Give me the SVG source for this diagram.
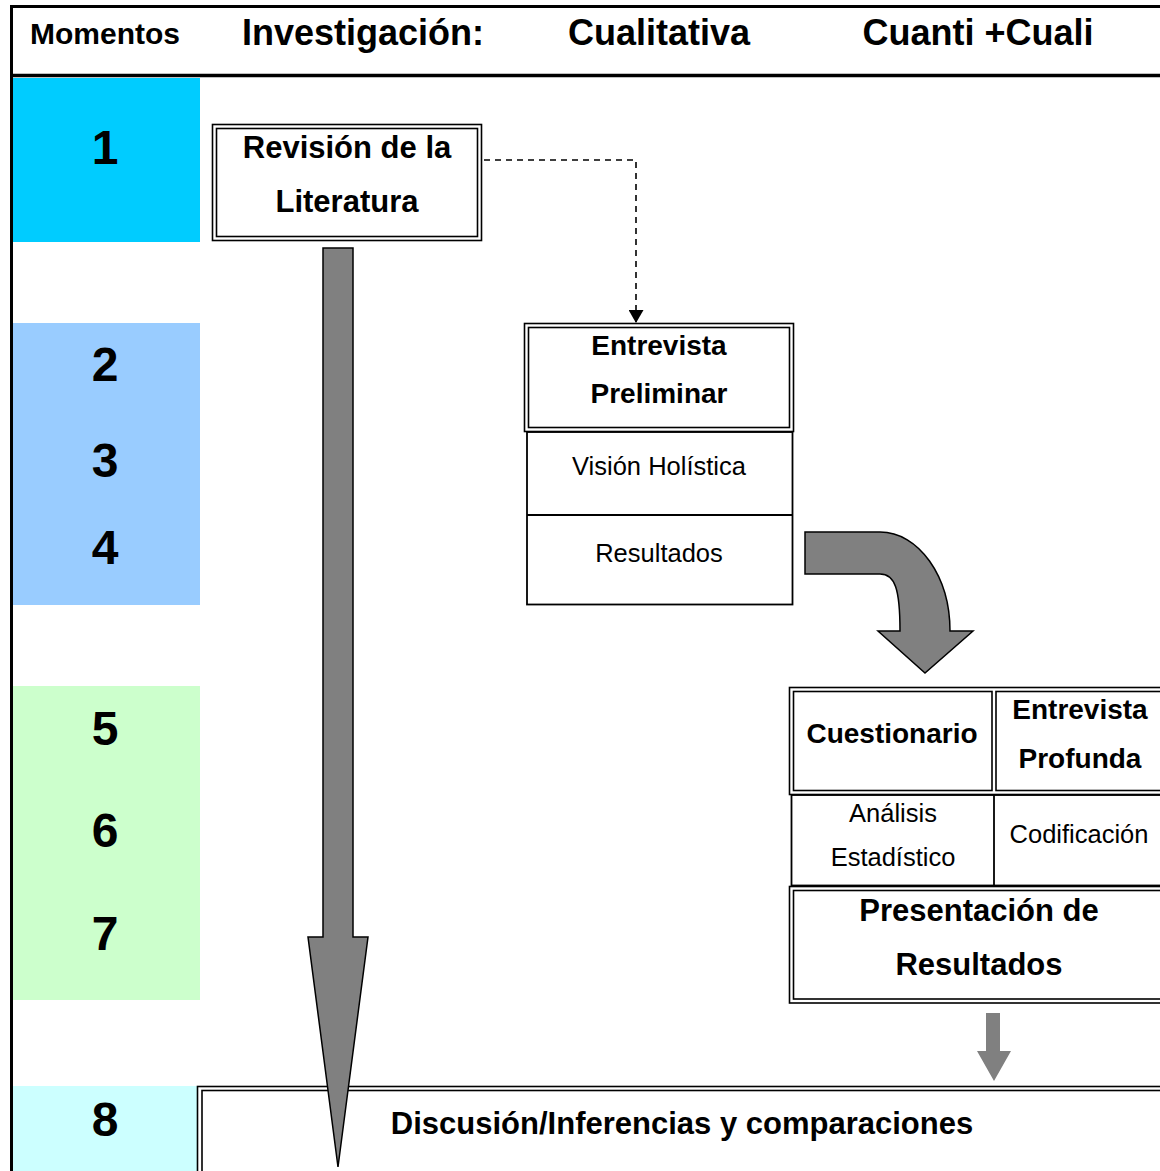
<svg xmlns="http://www.w3.org/2000/svg" width="1160" height="1171" viewBox="0 0 1160 1171">
<defs>
<marker id="tri" markerWidth="13" markerHeight="15" refX="13" refY="7.5" orient="auto" markerUnits="userSpaceOnUse" viewBox="0 0 13 15">
<path d="M0,0 L13,7.5 L0,15 Z" fill="#000"/>
</marker>
</defs>
<style>
text{font-family:"Liberation Sans",Arial,sans-serif;fill:#000;text-anchor:middle}
.hd{font-size:36px;font-weight:bold}
.num{font-size:48px;font-weight:bold}
.b28{font-size:28px;font-weight:bold}
.b31{font-size:31px;font-weight:bold}
.r{font-size:25.5px}
.ln{fill:none;stroke:#000;stroke-width:1.6}
.cell{fill:#fff;stroke:#000;stroke-width:1.8}
.arrow{fill:#808080;stroke:#000;stroke-width:1.5;stroke-linejoin:miter}
</style>
<rect width="1160" height="1171" fill="#fff"/>
<g id="frame">
<line x1="11.5" y1="5" x2="11.5" y2="1171" stroke="#000" stroke-width="3"/>
<line x1="10" y1="6.5" x2="1160" y2="6.5" stroke="#000" stroke-width="3"/>
<line x1="10" y1="75.5" x2="1160" y2="75.5" stroke="#000" stroke-width="3.5"/>
</g>
<g id="header">
<text class="hd" x="105" y="44" style="font-size:30px">Momentos</text>
<text class="hd" x="363" y="45">Investigación:</text>
<text class="hd" x="659" y="45">Cualitativa</text>
<text class="hd" x="978" y="45">Cuanti +Cuali</text>
</g>
<g id="moments">
<rect x="13" y="78" width="187" height="164" fill="#00CCFF"/>
<rect x="13" y="323" width="187" height="282" fill="#99CCFF"/>
<rect x="13" y="686" width="187" height="314" fill="#CCFFCC"/>
<rect x="13" y="1086" width="184" height="85" fill="#CCFFFF"/>
<text class="num" x="105" y="164">1</text>
<text class="num" x="105" y="381">2</text>
<text class="num" x="105" y="477">3</text>
<text class="num" x="105" y="564">4</text>
<text class="num" x="105" y="745">5</text>
<text class="num" x="105" y="847">6</text>
<text class="num" x="105" y="950">7</text>
<text class="num" x="105" y="1136">8</text>
</g>
<g id="revision">
<rect x="212.5" y="124.5" width="269" height="116" class="ln"/>
<rect x="216.5" y="128.5" width="261" height="108" class="ln"/>
<text class="b31" x="347" y="158">Revisión de la</text>
<text class="b31" x="347" y="212">Literatura</text>
</g>
<g id="entrevista-preliminar">
<rect x="527" y="432" width="265.5" height="172.5" class="cell"/>
<line x1="527" y1="515" x2="792.5" y2="515" stroke="#000" stroke-width="1.8"/>
<rect x="524.5" y="323.5" width="269" height="108" class="ln" fill="#fff"/>
<rect x="528.5" y="327.5" width="261" height="100" class="ln"/>
<text class="b28" x="659" y="355">Entrevista</text>
<text class="b28" x="659" y="403">Preliminar</text>
<text class="r" x="659" y="475">Visión Holística</text>
<text class="r" x="659" y="562">Resultados</text>
</g>
<g id="cuanti-cuali">
<rect x="791.5" y="795" width="380" height="90.5" class="cell"/>
<line x1="994" y1="795" x2="994" y2="886" stroke="#000" stroke-width="1.8"/>
<rect x="789.5" y="687.5" width="380" height="107" class="ln"/>
<rect x="793.5" y="691.5" width="198.5" height="99" class="ln"/>
<rect x="996" y="691.5" width="180" height="99" class="ln"/>
<text class="b28" x="892" y="743">Cuestionario</text>
<text class="b28" x="1080" y="719">Entrevista</text>
<text class="b28" x="1080" y="768">Profunda</text>
<text class="r" x="893" y="822">Análisis</text>
<text class="r" x="893" y="866">Estadístico</text>
<text class="r" x="1079" y="843">Codificación</text>
</g>
<g id="presentacion">
<rect x="789.5" y="886.5" width="380" height="116.5" class="ln" fill="#fff"/>
<rect x="793.5" y="890.5" width="380" height="108.5" class="ln"/>
<text class="b31" x="979" y="921">Presentación de</text>
<text class="b31" x="979" y="975">Resultados</text>
</g>
<g id="discusion">
<rect x="197.5" y="1086.5" width="980" height="100" class="ln"/>
<rect x="202" y="1090.5" width="980" height="100" class="ln"/>
<text class="b31" x="682" y="1134">Discusión/Inferencias y comparaciones</text>
</g>
<g id="connectors">
<path d="M484,160 H636 V323" fill="none" stroke="#000" stroke-width="1.6" stroke-dasharray="6,5" marker-end="url(#tri)"/>
<path class="arrow" d="M323,248 H353 V937 H368 L338,1167 L308,937 H323 Z"/>
<path class="arrow" d="M805,532 H880 C918.7,532 950,576.3 950,631 H973 L925,673 L878,631 H900 C900,589 895,574 880,574 H805 Z"/>
<path d="M986,1013 H1000 V1051 H1011 L994,1081 L977,1051 H986 Z" fill="#808080"/>
</g>
</svg>
